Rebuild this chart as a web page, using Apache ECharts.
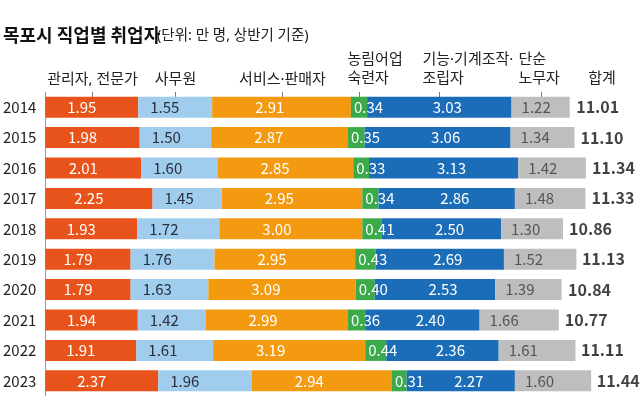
<!DOCTYPE html>
<html>
<head>
<meta charset="utf-8">
<script src="https://cdn.jsdelivr.net/npm/echarts@6/dist/echarts.min.js"></script>
<style>
html,body{margin:0;padding:0;background:#fff;}
#c{width:640px;height:408px;}
</style>
</head>
<body>
<div id="c"></div>
<script>
// ---- data ----
const years = ['2014','2015','2016','2017','2018','2019','2020','2021','2022','2023'];
const managers = [1.95,1.98,2.01,2.25,1.93,1.79,1.79,1.94,1.91,2.37];
const clerks = [1.55,1.50,1.60,1.45,1.72,1.76,1.63,1.42,1.61,1.96];
const services = [2.91,2.87,2.85,2.95,3.00,2.95,3.09,2.99,3.19,2.94];
const farming = [0.34,0.35,0.33,0.34,0.41,0.43,0.40,0.36,0.44,0.31];
const crafts = [3.03,3.06,3.13,2.86,2.50,2.69,2.53,2.40,2.36,2.27];
const labourers = [1.22,1.34,1.42,1.48,1.30,1.52,1.39,1.66,1.61,1.60];
const totals = [11.01,11.10,11.34,11.33,10.86,11.13,10.84,10.77,11.11,11.44];
const seriesNames = ['관리자, 전문가','사무원','서비스·판매자','농림어업 숙련자','기능·기계조작·조립자','단순 노무자'];
const headerLines = [['관리자, 전문가'],['사무원'],['서비스·판매자'],['농림어업','숙련자'],['기능·기계조작·','조립자'],['단순','노무자']];
const totalHeader = '합계';
const titleText = '목포시 직업별 취업자';
const subtitleText = '(단위: 만 명, 상반기 기준)';

// ---- styles ----
const FONT = '"Noto Sans CJK KR", "Noto Sans", sans-serif';
const HFONT = '"Noto Sans", "Noto Sans CJK KR", sans-serif';
const colors = ['#E8531B','#A0CCEE','#F39A10','#3BAA4A','#1C6DB8','#BEBEBE'];
const labelStyles = [
  {position:'inside', offset:[-10,0], color:'#fff'},
  {position:'insideLeft', distance:12, color:'#2a2f3a'},
  {position:'insideLeft', distance:43, color:'#fff'},
  {position:'insideLeft', distance:3, color:'#fff'},
  {position:'inside', offset:[8,0], color:'#fff'},
  {position:'insideLeft', distance:10, color:'#555'}
];
const allData = [managers, clerks, services, farming, crafts, labourers];

const chart = echarts.init(document.getElementById('c'), null, {renderer:'canvas'});

const series = allData.map((d, i) => ({
  name: seriesNames[i],
  type: 'bar',
  stack: 'total',
  barWidth: 21,
  data: d,
  itemStyle: {color: colors[i]},
  label: Object.assign({
    show: true,
    fontFamily: FONT,
    fontSize: 15,
    formatter: p => p.value.toFixed(2)
  }, labelStyles[i]),
  emphasis: {disabled: true}
}));

series.push({
  name: '합계',
  type: 'scatter',
  symbolSize: 0,
  data: totals.map((t, i) => [t, years[i]]),
  label: {
    show: true,
    position: 'right',
    distance: 6,
    fontFamily: FONT,
    fontSize: 16,
    fontWeight: 'bold',
    color: '#111',
    formatter: p => p.value[0].toFixed(2)
  }
});

chart.setOption({
  animation: false,
  backgroundColor: '#fff',
  grid: {left: 45, top: 92, width: 572.4, height: 304, containLabel: false},
  xAxis: {type: 'value', min: 0, max: 12, show: false},
  yAxis: {
    type: 'category',
    data: years,
    inverse: true,
    axisLine: {show: true, lineStyle: {color: '#999', width: 1}},
    axisTick: {show: false},
    axisLabel: {fontFamily: FONT, fontSize: 15, color: '#222', margin: 9}
  },
  series: series
});

// header labels and little ticks anchored at the middle of each 2014 segment
const graphics = [];
graphics.push({
  type: 'text', left: 3, top: 26,
  style: {text: titleText, font: 'bold 18px ' + FONT, fill: '#111'}
});
graphics.push({
  type: 'text', left: 157, top: 29,
  style: {text: subtitleText, font: '14.5px ' + HFONT, fill: '#222'}
});
let cum = 0;
const gridTop = 92;
const HF = '15px ' + HFONT;
allData.forEach((d, i) => {
  const mid = cum + d[0] / 2;
  cum += d[0];
  const x = Math.round(chart.convertToPixel({xAxisIndex: 0}, mid)) + 0.5;
  graphics.push({
    type: 'line',
    shape: {x1: x, y1: gridTop, x2: x, y2: gridTop + 5},
    style: {stroke: '#777', lineWidth: 1}
  });
  const lines = headerLines[i];
  if (lines.length === 1) {
    graphics.push({
      type: 'text', x: x, y: 80,
      style: {text: lines[0], font: HF, fill: '#222', textAlign: 'center', textVerticalAlign: 'middle'}
    });
  } else {
    const shifts = [-12, -17, -23];
    const sx = x + shifts[i - 3];
    graphics.push({
      type: 'text', x: sx, y: 60,
      style: {text: lines[0], font: HF, fill: '#222', textAlign: 'left', textVerticalAlign: 'middle'}
    });
    graphics.push({
      type: 'text', x: sx, y: 79,
      style: {text: lines[1], font: HF, fill: '#222', textAlign: 'left', textVerticalAlign: 'middle'}
    });
  }
});
graphics.push({
  type: 'text', x: 602, y: 79,
  style: {text: totalHeader, font: HF, fill: '#222', textAlign: 'center', textVerticalAlign: 'middle'}
});
chart.setOption({graphic: graphics});
</script>
</body>
</html>
